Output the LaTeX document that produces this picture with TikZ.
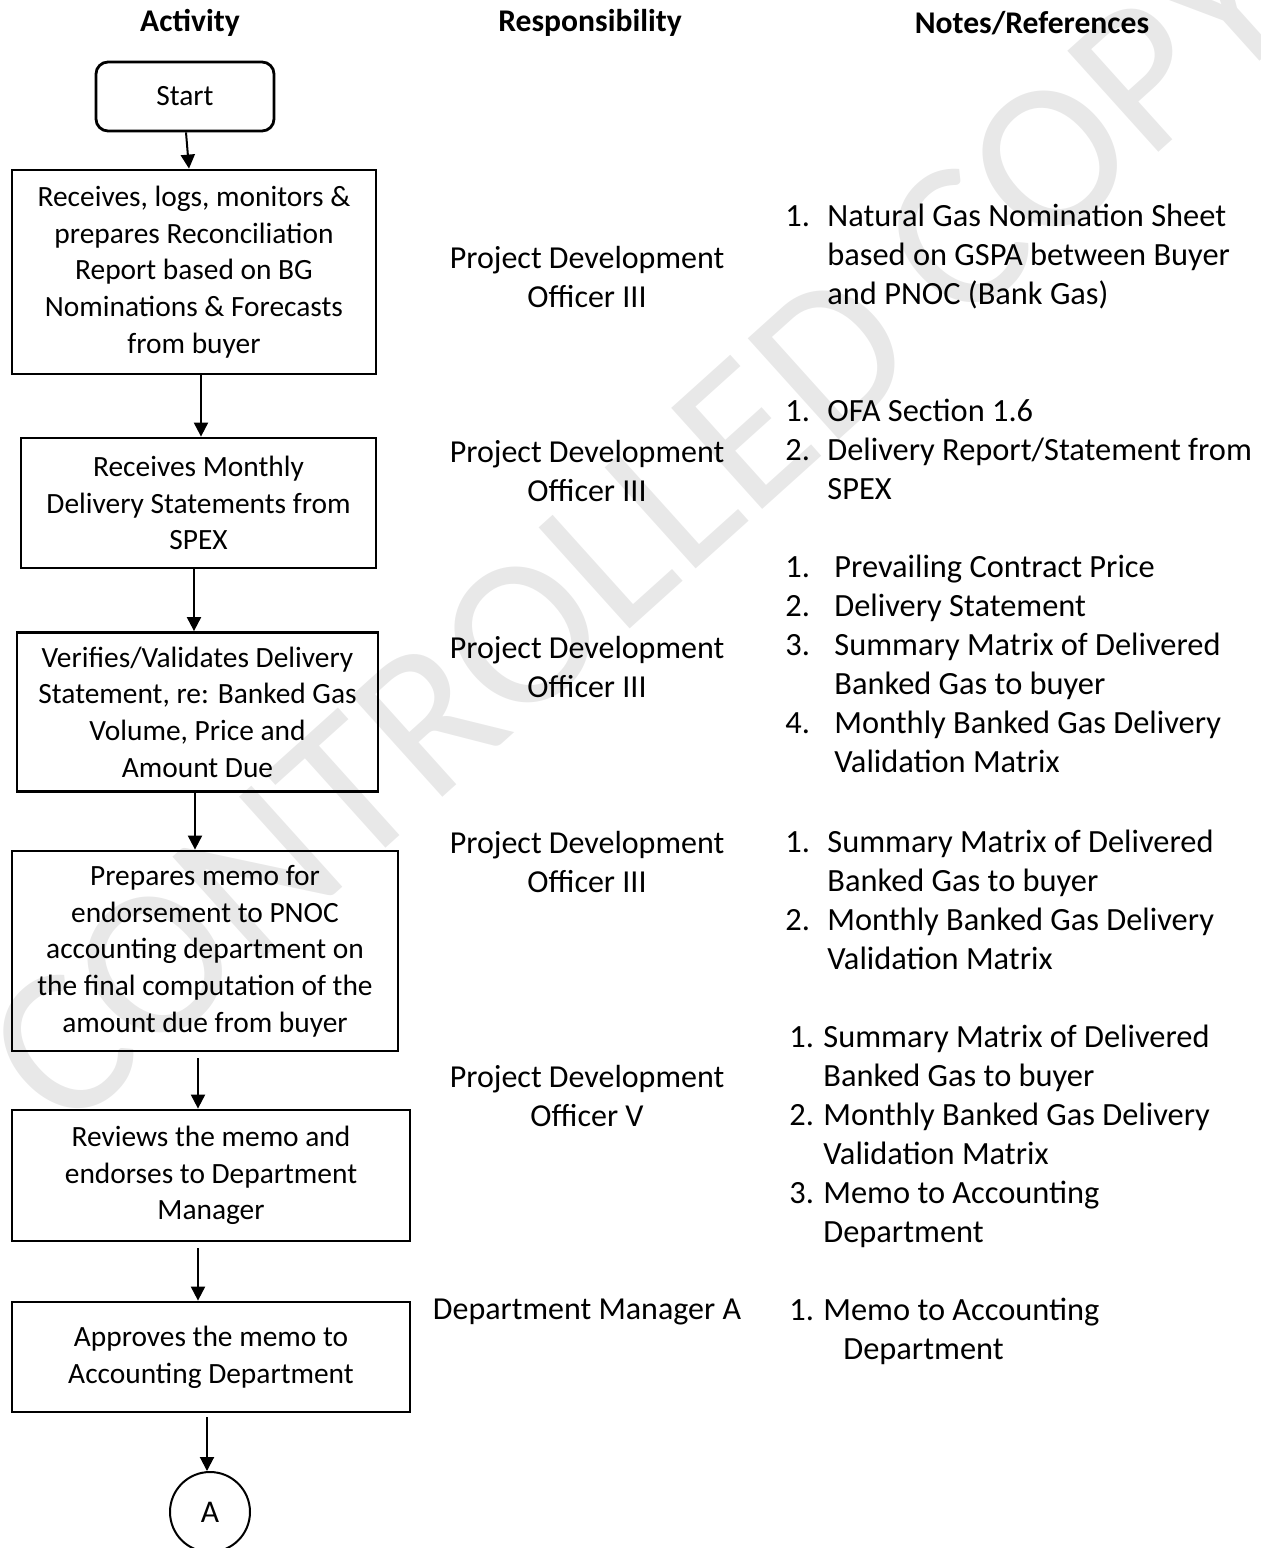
\documentclass[tikz,border=0pt]{standalone}
\usepackage{fontspec}
\setmainfont{Carlito}
\usetikzlibrary{arrows.meta}
\newcommand{\notelist}[2]{\begin{tabular}[t]{@{}p{#1}@{}l@{}}#2\end{tabular}}
\begin{document}
\begin{tikzpicture}[x=0.5pt,y=-0.5pt,
every node/.style={font=\fontsize{14.7}{18.35}\selectfont},
box/.style={draw, line width=1.4pt, inner sep=0pt, align=center},
arr/.style={line width=1pt, -{Triangle[width=7pt,length=7pt]}},
head/.style={font=\fontsize{15.8}{19}\selectfont\bfseries},
resp/.style={align=center, inner sep=0pt, font=\fontsize{16}{19.5}\selectfont},
note/.style={anchor=base west, inner sep=0pt, font=\fontsize{16.2}{19.5}\selectfont}]
\useasboundingbox (0,0) rectangle (1260,1548);
\node[rotate=42, text=black!9, font=\fontsize{106}{106}\selectfont] (wmark) at (640,528) {CONTROLLED COPY};

\node[head] (hact) at (190,23) {Activity};
\node[head] (hresp) at (590,23) {Responsibility};
\node[head] (hnote) at (1032,23) {Notes/References};

\node[box, rounded corners=6pt, minimum width=89pt, minimum height=34.5pt] (start) at (185,96.5) {Start};
\node[box, minimum width=182pt, minimum height=102pt] (recv) at (194,272) {Receives, logs, monitors \&\\prepares Reconciliation\\Report based on BG\\Nominations \& Forecasts\\from buyer};
\node[box, minimum width=177.5pt, minimum height=65pt] (monthly) at (198.5,503) {Receives Monthly\\Delivery Statements from\\SPEX};
\node[box, minimum width=180.5pt, minimum height=79.5pt] (verify) at (197.5,712) {Verifies/Validates Delivery\\Statement, re: Banked Gas\\Volume, Price and\\Amount Due};
\node[box, minimum width=193pt, minimum height=100pt] (memo) at (205,951) {Prepares memo for\\endorsement to PNOC\\accounting department on\\the final computation of the\\amount due from buyer};
\node[box, minimum width=199pt, minimum height=65.5pt] (review) at (211,1175.5) {Reviews the memo and\\endorses to Department\\Manager};
\node[box, minimum width=199pt, minimum height=55pt] (approve) at (211,1357) {Approves the memo to\\Accounting Department};
\node[draw, circle, line width=1pt, minimum size=40pt, inner sep=0pt, font=\fontsize{15.8}{18}\selectfont] (conA) at (210,1512) {A};

\draw[arr] ([xshift=0.5pt]start.south) -- ([xshift=-2.5pt]recv.north);
\draw[arr] ([xshift=3.5pt]recv.south) -- ([xshift=1.25pt]monthly.north);
\draw[arr] ([xshift=-2.25pt]monthly.south) -- ([xshift=-1.75pt]verify.north);
\draw[arr] ([xshift=-1.25pt]verify.south) -- ([xshift=-5pt]memo.north);
\draw[arr] ([xshift=-3.5pt,yshift=-3pt]memo.south) -- ([xshift=-6.5pt]review.north);
\draw[arr] ([xshift=-6.5pt,yshift=-3pt]review.south) -- ([xshift=-6.5pt]approve.north);
\draw[arr] ([xshift=-2pt,yshift=-2pt]approve.south) -- ([xshift=-1.5pt]conA.north);

\node[resp] (resp1) at (587,276.5) {Project Development\\Officer III};
\node[resp] (resp2) at (587,471) {Project Development\\Officer III};
\node[resp] (resp3) at (587,666.5) {Project Development\\Officer III};
\node[resp] (resp4) at (587,862) {Project Development\\Officer III};
\node[resp] (resp5) at (587,1096) {Project Development\\Officer V};
\node[resp] (resp6) at (587,1312) {Department Manager A};

\node[note] (note1) at (785,226) {\notelist{21pt}{1.&Natural Gas Nomination Sheet\\&based on GSPA between Buyer\\&and PNOC (Bank Gas)}};
\node[note] (note2) at (785,421) {\notelist{21pt}{1.&OFA Section 1.6\\2.&Delivery Report/Statement from\\&SPEX}};
\node[note] (note3) at (785,577) {\notelist{24.5pt}{1.&Prevailing Contract Price\\2.&Delivery Statement\\3.&Summary Matrix of Delivered\\&Banked Gas to buyer\\4.&Monthly Banked Gas Delivery\\&Validation Matrix}};
\node[note] (note4) at (785,852) {\notelist{21pt}{1.&Summary Matrix of Delivered\\&Banked Gas to buyer\\2.&Monthly Banked Gas Delivery\\&Validation Matrix}};
\node[note] (note5) at (789,1047) {\notelist{17pt}{1.&Summary Matrix of Delivered\\&Banked Gas to buyer\\2.&Monthly Banked Gas Delivery\\&Validation Matrix\\3.&Memo to Accounting\\&Department}};
\node[note] (note6) at (789,1320) {\notelist{17pt}{1.&Memo to Accounting\\&\hspace{10pt}Department}};
\end{tikzpicture}
\end{document}
